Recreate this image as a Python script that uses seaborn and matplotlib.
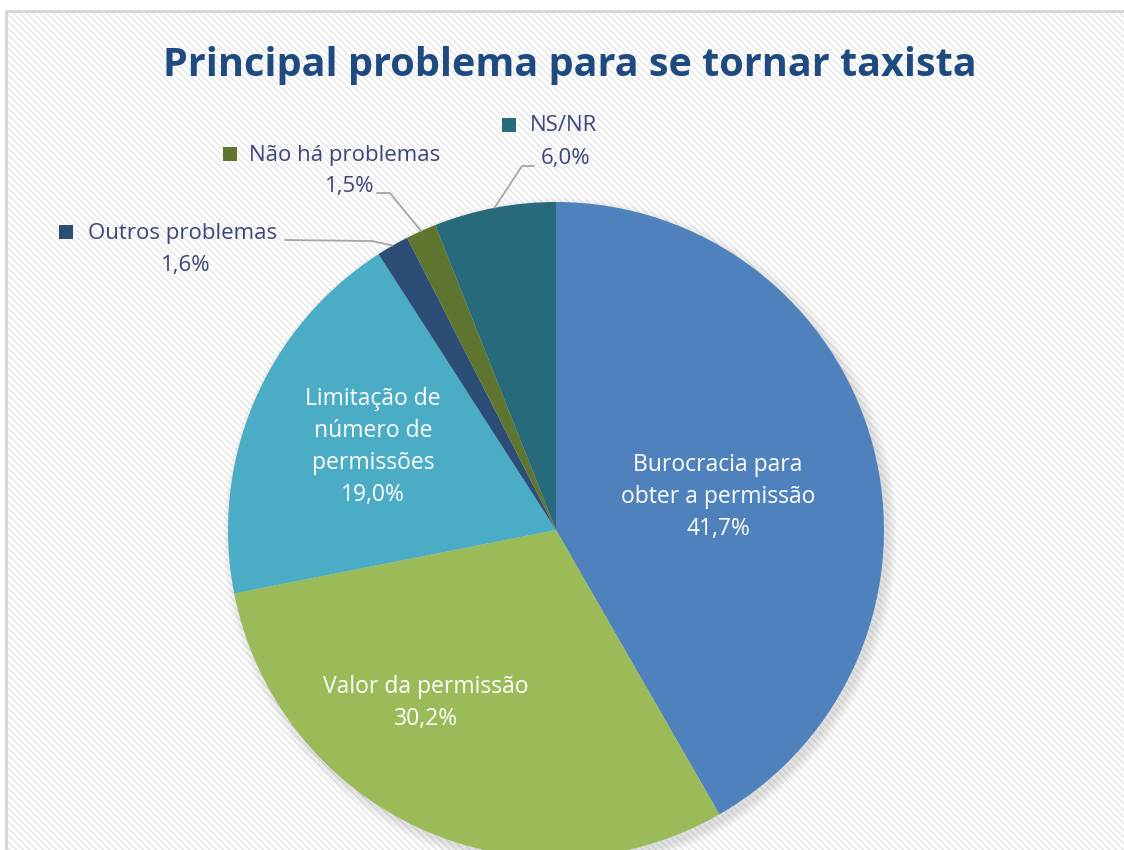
import numpy as np
import pandas as pd
import matplotlib
matplotlib.use("Agg")
import matplotlib.pyplot as plt
from matplotlib.patches import Rectangle, Circle
import seaborn as sns

# ---- data ----
categories = ["Burocracia para obter a permissão", "Valor da permissão",
              "Limitação de número de permissões", "Outros problemas",
              "Não há problemas", "NS/NR"]
values = [41.7, 30.2, 19.0, 1.6, 1.5, 6.0]
inside_labels = ["Burocracia para\nobter a permissão", "Valor da permissão",
                 "Limitação de\nnúmero de\npermissões", None, None, None]
colors = ["#4F81BD", "#9BBB59", "#4BACC6", "#2C4D75", "#5F7530", "#276A7B"]
title = "Principal problema para se tornar taxista"

df = pd.DataFrame({"cat": categories, "val": values})

sns.set_theme(style="white")
plt.rcParams['font.family'] = ['Open Sans', 'DejaVu Sans']
plt.rcParams['hatch.color'] = "#E4E4E4"
plt.rcParams['hatch.linewidth'] = 1.0
pal = sns.color_palette(colors)

W, H = 1124, 850
fig = plt.figure(figsize=(W / 100, H / 100), dpi=100)
fig.patch.set_facecolor("white")
ax = fig.add_axes([0, 0, 1, 1])

# chart area frame with diagonal hatch
bg = Rectangle((6, -20), W + 40, H - 11 + 20, facecolor="white",
               edgecolor="#E4E4E4", hatch="\\\\\\\\\\", linewidth=0, zorder=0)
ax.add_patch(bg)
frame = Rectangle((6, -20), W + 40, H - 11 + 20, facecolor="none",
                  edgecolor="#D4D4D4", linewidth=2, zorder=1)
ax.add_patch(frame)

cx, cy, R = 556, 320, 328

# soft shadow
for i in range(4):
    ax.add_patch(Circle((cx + 4, cy - 5), R + 1 + 2.5 * i, facecolor="#7A7A7A",
                        edgecolor="none", alpha=0.06, zorder=1.5))

wedges, _ = ax.pie(df["val"], colors=pal, startangle=90, counterclock=False,
                   center=(cx, cy), radius=R, frame=True,
                   wedgeprops=dict(linewidth=0, zorder=2))
ax.set_xlim(0, W)
ax.set_ylim(0, H)
ax.set_aspect("equal")
ax.axis("off")

fmt = lambda v: f"{v:.1f}".replace(".", ",") + "%"

# inside labels
inside_pos = [(718, 850 - 497), (426, 850 - 703), (373, 850 - 447)]
for i, pos in enumerate(inside_pos):
    ax.text(pos[0], pos[1], inside_labels[i] + "\n" + fmt(values[i]),
            ha="center", va="center", color="white", fontsize=16.5,
            linespacing=1.43, zorder=5)

# outside labels with legend-key squares and leader lines
txt_col = "#3A4778"
outside = {
    5: dict(name_x=530, name_y=850 - 125, pct_xy=(566, 850 - 158), sq=(502, 850 - 132),
            line=[(534, 850 - 166), (522, 850 - 166)]),
    4: dict(name_x=249, name_y=850 - 155, pct_xy=(350, 850 - 186), sq=(223, 850 - 161),
            line=[(377, 850 - 193), (390, 850 - 193)]),
    3: dict(name_x=88, name_y=850 - 233, pct_xy=(186, 850 - 265), sq=(59, 850 - 239),
            line=[(285, 850 - 240), (372, 850 - 241)]),
}
for i, d in outside.items():
    w = wedges[i]
    mid = np.deg2rad((w.theta1 + w.theta2) / 2)
    edge = (cx + R * np.cos(mid), cy + R * np.sin(mid))
    ax.text(d["name_x"], d["name_y"], categories[i], ha="left", va="center",
            color=txt_col, fontsize=16, zorder=5)
    ax.text(d["pct_xy"][0], d["pct_xy"][1], fmt(values[i]), ha="center", va="center",
            color=txt_col, fontsize=16, zorder=5)
    ax.add_patch(Rectangle(d["sq"], 14, 14, facecolor=colors[i], edgecolor="none", zorder=5))
    (x0, y0), (x1, y1) = d["line"]
    ax.plot([x0, x1, edge[0]], [y0, y1, edge[1]], color="#A6A6A6", lw=1.3, zorder=4)

ax.text(570, 850 - 65, title, ha="center", va="center", fontsize=28.5,
        fontweight="bold", color="#1F4A80", zorder=5)

fig.savefig("out.png", dpi=100, facecolor="white")
